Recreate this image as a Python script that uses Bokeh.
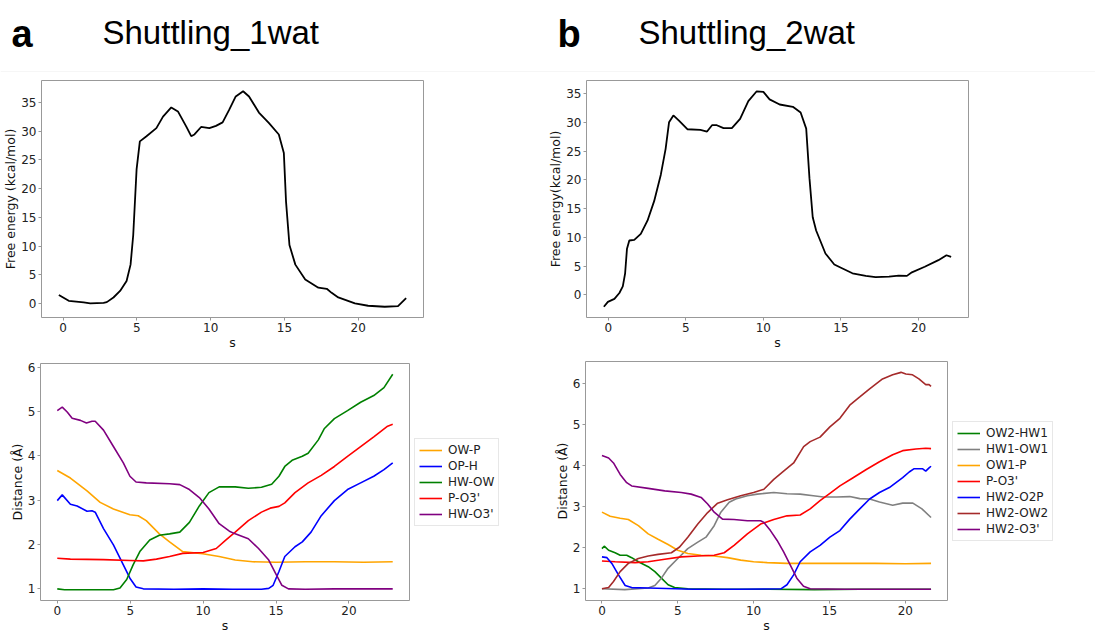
from bokeh.plotting import figure
from bokeh.layouts import column, row
from bokeh.models import Range1d, SingleIntervalTicker, Legend, LegendItem, Span
from bokeh.core.properties import value
from bokeh.embed import file_html
from bokeh.resources import INLINE

# ---------------- data ----------------
TITLE_A = "Shuttling_1wat"
TITLE_B = "Shuttling_2wat"
XLABEL = "s"
YLABEL_FE_A = "Free energy (kcal/mol)"
YLABEL_FE_B = "Free energy(kcal/mol)"
YLABEL_D = "Distance (Å)"

A_FE_S = [-0.29, 0.38, 1.39, 1.84, 2.74, 2.96, 3.41, 3.86, 4.30, 4.57, 4.75, 4.98, 5.2, 5.65, 6.32, 6.77,
          7.33, 7.78, 8.34, 8.68, 8.9, 9.35, 9.91, 10.36, 10.81, 11.26, 11.7, 12.2, 12.6, 13.27, 13.94,
          14.62, 14.96, 15.11, 15.34, 15.74, 16.41, 17.3, 17.87, 18.2, 18.65, 19.78, 20.67, 21.8, 22.7, 23.25]
A_FE = [1.54, 0.51, 0.23, 0.06, 0.17, 0.29, 1.09, 2.23, 3.95, 6.8, 11.9, 23.4, 28.2, 29.1, 30.5, 32.5,
        34.1, 33.4, 30.8, 29.1, 29.4, 30.7, 30.5, 30.9, 31.5, 33.7, 36.0, 36.9, 36.0, 33.2, 31.4,
        29.4, 26.2, 17.7, 10.2, 6.8, 4.2, 2.8, 2.6, 1.9, 1.1, 0.06, -0.34, -0.51, -0.4, 0.97]

A_OWP_S = [0, 0.9, 2.04, 2.94, 3.85, 4.98, 5.55, 6.1, 7.0, 7.7, 8.6, 9.97, 11.1, 12.2, 13.4, 15, 17, 19, 21, 23]
A_OWP = [3.67, 3.50, 3.21, 2.95, 2.80, 2.67, 2.65, 2.54, 2.24, 2.06, 1.84, 1.79, 1.73, 1.65, 1.61, 1.60,
         1.61, 1.61, 1.60, 1.61]

A_OPH_S = [0, 0.34, 0.9, 1.36, 2.04, 2.38, 2.6, 3.17, 3.85, 4.53, 4.98, 5.4, 5.9, 8, 10, 12, 14, 14.5,
           14.8, 15.2, 15.6, 16.3, 16.8, 17.4, 18.1, 19.0, 19.9, 20.8, 21.7, 22.4, 23.0]
A_OPH = [2.99, 3.12, 2.91, 2.87, 2.75, 2.76, 2.73, 2.36, 1.99, 1.54, 1.24, 1.04, 1.0, 0.99, 1.0, 0.99,
         0.99, 1.01, 1.08, 1.39, 1.73, 1.95, 2.06, 2.28, 2.65, 2.99, 3.24, 3.39, 3.54, 3.69, 3.84]

A_HWOW_S = [0, 0.5, 2, 3.85, 4.3, 4.76, 5.2, 5.66, 6.34, 7.0, 7.7, 8.4, 9.06, 9.74, 10.4, 11.1, 12.2, 13.1,
            14.0, 14.7, 15.2, 15.6, 16.1, 16.8, 17.2, 17.9, 18.3, 19.0, 19.9, 20.8, 21.7, 22.4, 23.0]
A_HWOW = [1.0, 0.98, 0.98, 0.98, 1.02, 1.21, 1.54, 1.84, 2.10, 2.21, 2.24, 2.28, 2.5, 2.87, 3.17, 3.30,
          3.30, 3.27, 3.29, 3.36, 3.54, 3.76, 3.90, 3.99, 4.06, 4.36, 4.61, 4.84, 5.02, 5.21, 5.36, 5.54, 5.84]

A_PO3_S = [0, 0.9, 3.17, 4.98, 5.9, 6.8, 7.7, 8.6, 10.0, 10.9, 11.55, 12.2, 13.1, 14.0, 14.6, 15.2, 15.6,
           16.3, 17.2, 18.1, 19.0, 19.9, 20.8, 21.7, 22.65, 23.0]
A_PO3 = [1.69, 1.67, 1.66, 1.64, 1.63, 1.67, 1.73, 1.80, 1.82, 1.91, 2.10, 2.28, 2.54, 2.73, 2.82, 2.86,
         2.94, 3.17, 3.39, 3.56, 3.76, 3.99, 4.21, 4.43, 4.67, 4.71]

A_HWO3_S = [0, 0.34, 0.68, 1.02, 1.59, 2.0, 2.38, 2.6, 3.17, 3.85, 4.53, 4.98, 5.4, 6.1, 7.7, 8.4, 9.06,
            9.74, 10.4, 11.1, 11.8, 12.2, 13.1, 13.8, 14.5, 14.95, 15.4, 15.85, 17, 19, 21, 23]
A_HWO3 = [5.02, 5.1, 4.99, 4.85, 4.8, 4.74, 4.78, 4.78, 4.58, 4.21, 3.84, 3.54, 3.41, 3.39, 3.37, 3.35,
          3.24, 3.06, 2.8, 2.47, 2.30, 2.24, 2.13, 1.91, 1.65, 1.36, 1.08, 1.0, 0.99, 1.0, 1.0, 1.0]

B_FE_S = [-0.28, -0.02, 0.4, 0.72, 0.94, 1.09, 1.21, 1.36, 1.68, 2.1, 2.53, 2.96, 3.39, 3.7, 3.92, 4.2,
          4.56, 5.1, 5.94, 6.37, 6.69, 7.0, 7.43, 7.97, 8.5, 9.03, 9.57, 10.0, 10.4, 11.05, 11.9, 12.4,
          12.76, 12.97, 13.18, 13.4, 14.0, 14.57, 15.1, 15.74, 16.6, 17.23, 18.1, 18.72, 19.25, 19.57,
          20.4, 21.28, 21.8, 22.1]
B_FE = [-2.05, -1.2, -0.68, 0.34, 1.48, 3.76, 8.04, 9.46, 9.58, 10.6, 12.9, 16.3, 20.9, 25.4, 30.0, 31.2,
        30.3, 28.8, 28.7, 28.4, 29.5, 29.5, 29.0, 29.0, 30.6, 33.7, 35.4, 35.3, 34.0, 33.1, 32.7, 31.7,
        28.9, 20.3, 13.5, 11.2, 7.2, 5.3, 4.6, 3.76, 3.3, 3.08, 3.19, 3.36, 3.31, 3.93,
        4.9, 6.04, 6.9, 6.6]

B_OWHW_S = [0, 0.15, 0.44, 0.87, 1.2, 1.63, 1.96, 2.4, 3.05, 3.49, 3.92, 4.36, 4.79, 5.66, 8, 11, 14, 17, 20, 21.7]
B_OWHW = [1.98, 2.04, 1.94, 1.88, 1.82, 1.82, 1.76, 1.66, 1.54, 1.42, 1.26, 1.10, 1.03, 1.0, 0.99, 0.99,
          0.98, 0.99, 0.99, 0.99]

B_HWOW1_S = [0, 1.5, 3.05, 3.49, 3.92, 4.36, 5.0, 5.66, 6.32, 6.86, 7.4, 7.84, 8.39, 8.82, 9.59, 10.24,
             11.33, 12.2, 13.07, 13.94, 14.6, 15.47, 16.34, 17.0, 17.65, 18.3, 19.17, 19.83, 20.5, 21.1, 21.7]
B_HWOW1 = [1.0, 0.98, 1.02, 1.08, 1.26, 1.5, 1.74, 1.98, 2.14, 2.26, 2.54, 2.87, 3.11, 3.19, 3.27, 3.31,
           3.35, 3.32, 3.31, 3.27, 3.24, 3.24, 3.25, 3.2, 3.19, 3.12, 3.04, 3.09, 3.09, 2.95, 2.74]

B_OW1P_S = [0, 0.54, 1.2, 1.74, 2.4, 3.05, 3.7, 4.36, 5.0, 5.66, 6.54, 7.4, 8.28, 9.15, 10.0, 10.9, 12.2,
            13.9, 16, 18, 20, 21.7]
B_OW1P = [2.87, 2.77, 2.72, 2.69, 2.54, 2.34, 2.21, 2.08, 1.94, 1.86, 1.82, 1.8, 1.76, 1.70, 1.66, 1.64,
          1.62, 1.62, 1.62, 1.62, 1.61, 1.62]

B_PO3_S = [0, 0.87, 2.18, 3.05, 4.14, 5.23, 6.32, 7.4, 8.06, 8.71, 9.59, 10.46, 11.33, 12.2, 13.07, 13.73,
           14.38, 15.03, 15.69, 16.56, 17.43, 18.3, 19.17, 19.83, 20.7, 21.35, 21.7]
B_PO3 = [1.68, 1.66, 1.64, 1.66, 1.72, 1.78, 1.80, 1.82, 1.88, 2.06, 2.34, 2.58, 2.69, 2.78, 2.8, 2.95,
         3.15, 3.33, 3.51, 3.71, 3.91, 4.1, 4.27, 4.37, 4.41, 4.43, 4.42]

B_HWO2P_S = [0, 0.33, 0.65, 1.09, 1.53, 1.96, 3.05, 6, 9, 11.8, 12.2, 12.64, 13.07, 13.73, 14.38, 15.03,
             15.69, 16.34, 17.0, 17.65, 18.3, 18.95, 19.39, 19.83, 20.26, 20.59, 21.13, 21.35, 21.57, 21.7]
B_HWO2P = [1.78, 1.76, 1.62, 1.34, 1.08, 1.03, 1.02, 0.99, 0.99, 1.0, 1.1, 1.34, 1.66, 1.9, 2.06, 2.26,
           2.42, 2.7, 2.95, 3.19, 3.35, 3.47, 3.59, 3.71, 3.85, 3.93, 3.93, 3.87, 3.95, 3.99]

B_HWOW2_S = [0, 0.44, 0.76, 1.2, 1.74, 2.4, 3.05, 3.7, 4.58, 5.12, 5.66, 6.32, 6.97, 7.63, 8.28, 9.15,
             10.0, 10.68, 11.33, 11.98, 12.64, 13.3, 13.73, 14.38, 15.03, 15.69, 16.34, 17.0, 17.65, 18.5,
             19.17, 19.72, 20.04, 20.48, 20.9, 21.35, 21.57, 21.7]
B_HWOW2 = [1.0, 1.03, 1.18, 1.42, 1.62, 1.74, 1.80, 1.84, 1.88, 2.02, 2.26, 2.58, 2.86, 3.09, 3.17, 3.27,
           3.35, 3.43, 3.67, 3.87, 4.07, 4.47, 4.59, 4.70, 4.95, 5.16, 5.48, 5.68, 5.88, 6.12,
           6.22, 6.28, 6.24, 6.22, 6.12, 5.98, 5.98, 5.94]

B_HWO3_S = [0, 0.44, 0.76, 1.2, 1.63, 1.96, 3.05, 4.14, 5.23, 5.88, 6.54, 6.97, 7.4, 7.95, 8.71, 9.59,
            10.46, 10.68, 11.11, 11.55, 11.98, 12.42, 12.85, 13.29, 13.73, 16, 19, 21.7]
B_HWO3 = [4.25, 4.19, 4.07, 3.79, 3.59, 3.51, 3.45, 3.39, 3.35, 3.31, 3.23, 3.07, 2.87, 2.70, 2.69, 2.66,
          2.66, 2.62, 2.42, 2.18, 1.90, 1.58, 1.26, 1.06, 1.0, 0.99, 0.99, 0.99]

SERIES_A = [("OW-P", A_OWP_S, A_OWP, "orange"),
            ("OP-H", A_OPH_S, A_OPH, "blue"),
            ("HW-OW", A_HWOW_S, A_HWOW, "green"),
            ("P-O3'", A_PO3_S, A_PO3, "red"),
            ("HW-O3'", A_HWO3_S, A_HWO3, "purple")]
SERIES_B = [("OW2-HW1", B_OWHW_S, B_OWHW, "green"),
            ("HW1-OW1", B_HWOW1_S, B_HWOW1, "grey"),
            ("OW1-P", B_OW1P_S, B_OW1P, "orange"),
            ("P-O3'", B_PO3_S, B_PO3, "red"),
            ("HW2-O2P", B_HWO2P_S, B_HWO2P, "blue"),
            ("HW2-OW2", B_HWOW2_S, B_HWOW2, "brown"),
            ("HW2-O3'", B_HWO3_S, B_HWO3, "purple")]

FONT = "DejaVu Sans"
FS = "12px"
FS_LABEL = "12.5px"
FRAME = "#999999"


def pad_range(vals, frac=0.05):
    lo, hi = min(vals), max(vals)
    d = (hi - lo) * frac
    return Range1d(lo - d, hi + d)


def no_title(p):
    try:
        p.title = None
    except Exception:
        p.title.visible = False


def no_align(p):
    try:
        p.frame_align = False
    except Exception:
        pass


def make_fig(w, h, xs, ys, ytick, ylabel, bl, br, bt, bb):
    p = figure(width=w, height=h, output_backend="svg", toolbar_location=None,
               x_range=pad_range(xs), y_range=pad_range(ys),
               min_border_left=bl, min_border_right=br, min_border_top=bt, min_border_bottom=bb)
    no_align(p)
    no_title(p)
    p.outline_line_color = FRAME
    p.xgrid.visible = False
    p.ygrid.visible = False
    p.xaxis.ticker = SingleIntervalTicker(interval=5)
    p.yaxis.ticker = SingleIntervalTicker(interval=ytick)
    p.xaxis.axis_label = XLABEL
    p.yaxis.axis_label = ylabel
    for ax in (p.xaxis, p.yaxis):
        ax.axis_line_color = None
        ax.major_tick_line_color = FRAME
        ax.major_tick_out = 3
        ax.major_tick_in = 0
        ax.minor_tick_line_color = None
        ax.major_label_text_font = FONT
        ax.major_label_text_font_size = FS
        ax.major_label_text_color = "#222222"
        ax.major_label_standoff = 1
        ax.axis_label_text_font = FONT
        ax.axis_label_text_font_size = FS_LABEL
        ax.axis_label_text_font_style = "normal"
        ax.axis_label_text_color = "#111111"
        ax.axis_label_standoff = 0
    return p


def dist_pair(w_plot, w_leg, series, bl, bt, bb, leg_y):
    xs = [v for s in series for v in s[1]]
    ys = [v for s in series for v in s[2]]
    p = make_fig(w_plot, 283, xs, ys, 1, YLABEL_D, bl, 5, bt, bb)
    for name, sx, sy, col in series:
        p.line(sx, sy, line_color=col, line_width=1.6)
    # companion figure that holds the legend (to the right of the frame)
    lf = figure(width=w_leg, height=283, output_backend="svg", toolbar_location=None,
                x_range=Range1d(1000, 1001), y_range=Range1d(1000, 1001),
                x_axis_location=None, y_axis_location=None, min_border=0)
    no_align(lf)
    no_title(lf)
    lf.grid.visible = False
    lf.outline_line_color = None
    items = []
    for name, sx, sy, col in series:
        r = lf.line(sx, sy, line_color=col, line_width=1.6)
        items.append(LegendItem(label=name, renderers=[r]))
    leg = Legend(items=items, location=(0, leg_y), margin=0, padding=4, spacing=2,
                 label_height=14, glyph_height=14, glyph_width=23, label_standoff=6,
                 label_text_font=FONT, label_text_font_size=FS, label_text_color="#222222",
                 label_text_line_height=1.0,
                 border_line_color="#d0d0d0", background_fill_alpha=1.0)
    lf.add_layout(leg)
    return row(p, lf)


# ---------------- title strip ----------------
t = figure(width=1095, height=72, output_backend="svg", toolbar_location=None,
           x_range=Range1d(0, 1095), y_range=Range1d(72, 0), min_border=0)
no_title(t)
no_align(t)
t.axis.visible = False
t.grid.visible = False
t.outline_line_color = None
t.text(x=[11, 557], y=[33, 33], text=["a", "b"], text_font=value("Liberation Sans"),
       text_font_size="38px", text_font_style="bold", text_color="black", text_baseline="alphabetic")
t.text(x=[102, 638], y=[31.5, 31.5], text=[TITLE_A, TITLE_B], text_font=value("Liberation Sans"),
       text_font_size="33px", text_color="black", text_baseline="alphabetic")
t.add_layout(Span(location=71.5, dimension="width", line_color="#ececec", line_width=1))

# ---------------- panels ----------------
fa = make_fig(545, 280, A_FE_S, A_FE, 5, YLABEL_FE_A, 40, 122, 8, 31)
fa.line(A_FE_S, A_FE, line_color="black", line_width=1.8)

fb = make_fig(550, 280, B_FE_S, B_FE, 5, YLABEL_FE_B, 40, 127, 8, 31)
fb.line(B_FE_S, B_FE, line_color="black", line_width=1.8)

da = dist_pair(414, 131, SERIES_A, 40, 11, 31, 109)
db = dist_pair(407, 143, SERIES_B, 40, 9, 33, 94)

layout = column(t, row(column(fa, da), column(fb, db)))

open("out.html", "w").write(file_html(layout, INLINE))
